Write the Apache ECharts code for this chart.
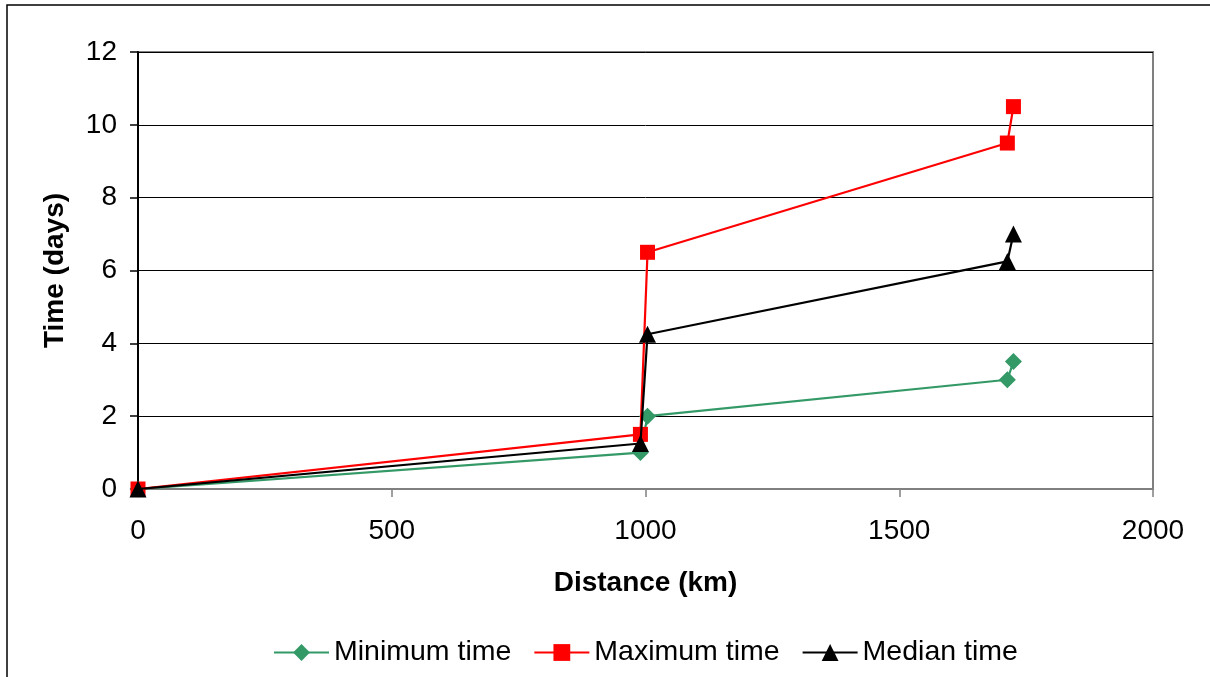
<!DOCTYPE html>
<html>
<head>
<meta charset="utf-8">
<script src="https://cdn.jsdelivr.net/npm/echarts@6/dist/echarts.min.js"></script>
<style>
html,body{margin:0;padding:0;background:#fff;}
#chart{width:1210px;height:677px;}
</style>
</head>
<body>
<div id="chart"></div>
<script>
const distance = [0, 990, 1004, 1713, 1725];
const minimumTime = [0, 1.0, 2.0, 3.0, 3.5];
const maximumTime = [0, 1.5, 6.5, 9.5, 10.5];
const medianTime = [0, 1.25, 4.25, 6.25, 7.0];
const seriesNames = ['Minimum time', 'Maximum time', 'Median time'];

const pairs = (ys) => distance.map((x, i) => [x, ys[i]]);
const font = 'Liberation Sans, Arial, sans-serif';
const fs = 28;

const chart = echarts.init(document.getElementById('chart'));
chart.setOption({
  animation: false,
  backgroundColor: '#fff',
  graphic: [{
    type: 'rect',
    shape: { x: 7, y: 5, width: 1220, height: 700 },
    style: { fill: 'none', stroke: '#000', lineWidth: 1.5 },
    z: -1
  }],
  grid: {
    left: 138, right: 57, top: 52, bottom: 188,
    show: true, borderColor: '#808080', borderWidth: 2, backgroundColor: 'transparent'
  },
  legend: {
    bottom: 5,
    left: 268,
    itemWidth: 55,
    itemHeight: 21,
    itemGap: 22,
    textStyle: { fontFamily: font, fontSize: 28.5, color: '#000' },
    data: seriesNames
  },
  xAxis: {
    type: 'value', min: 0, max: 2000, interval: 500,
    name: 'Distance (km)', nameLocation: 'middle', nameGap: 80,
    nameTextStyle: { fontFamily: font, fontSize: fs, fontWeight: 'bold', color: '#000' },
    axisLine: { show: true, lineStyle: { color: '#808080', width: 2 } },
    axisTick: { show: true, inside: false, length: 8, lineStyle: { color: '#808080', width: 1.5 } },
    axisLabel: { fontFamily: font, fontSize: fs, color: '#000', margin: 28, formatter: (v) => String(v) },
    splitLine: { show: false }
  },
  yAxis: {
    type: 'value', min: 0, max: 12, interval: 2,
    name: 'Time (days)', nameLocation: 'middle', nameGap: 69,
    nameTextStyle: { fontFamily: font, fontSize: fs, fontWeight: 'bold', color: '#000' },
    axisLine: { show: true, lineStyle: { color: '#000', width: 2 } },
    axisTick: { show: true, inside: false, length: 8, lineStyle: { color: '#000', width: 1.5 } },
    axisLabel: { fontFamily: font, fontSize: fs, color: '#000', margin: 21 },
    splitLine: { show: true, lineStyle: { color: '#000', width: 1 } }
  },
  series: [
    {
      name: seriesNames[0], type: 'line', data: pairs(minimumTime),
      symbol: 'diamond', symbolSize: 17,
      itemStyle: { color: '#339966' }, lineStyle: { color: '#339966', width: 2.2 }, z: 3
    },
    {
      name: seriesNames[1], type: 'line', data: pairs(maximumTime),
      symbol: 'rect', symbolSize: 15,
      itemStyle: { color: '#ff0000' }, lineStyle: { color: '#ff0000', width: 2.2 }, z: 4
    },
    {
      name: seriesNames[2], type: 'line', data: pairs(medianTime),
      symbol: 'triangle', symbolSize: 17,
      itemStyle: { color: '#000' }, lineStyle: { color: '#000', width: 2.2 }, z: 5
    }
  ]
});
</script>
</body>
</html>
